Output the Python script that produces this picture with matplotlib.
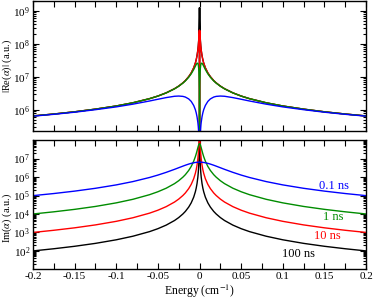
import numpy as np
import matplotlib
matplotlib.use('Agg')
import matplotlib.pyplot as plt
from matplotlib.ticker import MultipleLocator, LogLocator, NullFormatter

plt.rcParams['font.family'] = ['Liberation Serif', 'DejaVu Serif']
plt.rcParams['mathtext.fontset'] = 'stix'
plt.rcParams['axes.unicode_minus'] = False

# energy grid (cm^-1), one side; curves are symmetric about 0
energy_half = [0, 0.0001, 0.0002, 0.0004, 0.0007, 0.001, 0.0015, 0.002, 0.003,
               0.004, 0.005, 0.007, 0.01, 0.013, 0.017, 0.02, 0.025, 0.03,
               0.04, 0.05, 0.06, 0.08, 0.1, 0.125, 0.15, 0.175, 0.2]

labels = ["100 ns", "10 ns", "1 ns", "0.1 ns"]

# |Re(alpha)|
re_100ns = [1e3, 1.24e9, 6.5e8, 3.29e8, 1.88e8, 1.32e8, 8.8e7, 6.6e7, 4.4e7,
            3.3e7, 2.64e7, 1.89e7, 1.32e7, 1.02e7, 7.76e6, 6.6e6, 5.28e6, 4.4e6,
            3.3e6, 2.64e6, 2.2e6, 1.65e6, 1.32e6, 1.06e6, 8.8e5, 7.54e5, 6.6e5]
re_10ns = [1e3, 1.82e8, 2.58e8, 2.37e8, 1.67e8, 1.24e8, 8.56e7, 6.5e7, 4.37e7,
           3.29e7, 2.63e7, 1.88e7, 1.32e7, 1.02e7, 7.76e6, 6.6e6, 5.28e6, 4.4e6,
           3.3e6, 2.64e6, 2.2e6, 1.65e6, 1.32e6, 1.06e6, 8.8e5, 7.54e5, 6.6e5]
re_1ns = [1e3, 2.11e6, 4.2e6, 8.24e6, 1.37e7, 1.82e7, 2.33e7, 2.58e7, 2.6e7,
          2.37e7, 2.11e7, 1.67e7, 1.24e7, 9.79e6, 7.6e6, 6.5e6, 5.23e6, 4.37e6,
          3.29e6, 2.63e6, 2.2e6, 1.65e6, 1.32e6, 1.06e6, 8.8e5, 7.54e5, 6.6e5]
re_01ns = [1e3, 2.11e4, 4.22e4, 8.45e4, 1.48e5, 2.11e5, 3.16e5, 4.2e5, 6.25e5,
           8.24e5, 1.02e6, 1.37e6, 1.82e6, 2.16e6, 2.46e6, 2.58e6, 2.64e6, 2.6e6,
           2.37e6, 2.11e6, 1.87e6, 1.5e6, 1.24e6, 1.02e6, 8.56e5, 7.39e5, 6.5e5]

# Im(alpha)
im_100ns = [6.4e9, 3.76e8, 9.85e7, 2.49e7, 8.15e6, 4.0e6, 1.78e6, 1.0e6, 4.44e5,
            2.5e5, 1.6e5, 8.16e4, 4.0e4, 2.37e4, 1.38e4, 1.0e4, 6.4e3, 4.44e3,
            2.5e3, 1.6e3, 1.11e3, 625, 400, 256, 178, 131, 100]
im_10ns = [6.4e8, 5.52e8, 3.9e8, 1.8e8, 7.24e7, 3.76e7, 1.73e7, 9.85e6, 4.41e6,
           2.49e6, 1.6e6, 8.15e5, 4.0e5, 2.37e5, 1.38e5, 1.0e5, 6.4e4, 4.44e4,
           2.5e4, 1.6e4, 1.11e4, 6.25e3, 4.0e3, 2.56e3, 1.78e3, 1.31e3, 1.0e3]
im_1ns = [6.4e7, 6.39e7, 6.36e7, 6.24e7, 5.93e7, 5.52e7, 4.71e7, 3.9e7, 2.62e7,
          1.8e7, 1.28e7, 7.24e6, 3.76e6, 2.28e6, 1.35e6, 9.85e5, 6.34e5, 4.41e5,
          2.49e5, 1.6e5, 1.11e5, 6.24e4, 4.0e4, 2.56e4, 1.78e4, 1.31e4, 1.0e4]
im_01ns = [6.4e6, 6.4e6, 6.4e6, 6.4e6, 6.39e6, 6.39e6, 6.38e6, 6.36e6, 6.31e6,
           6.24e6, 6.15e6, 5.93e6, 5.52e6, 5.04e6, 4.38e6, 3.9e6, 3.2e6, 2.62e6,
           1.8e6, 1.28e6, 9.47e5, 5.69e5, 3.76e5, 2.46e5, 1.73e5, 1.28e5, 9.85e4]

colors = ['black', '#ff0000', '#008c00', '#0000ff']
label_pos = [(0.119, 68), (0.154, 660), (0.16, 6.5e3), (0.161, 3.3e5)]


def mirror(vals):
    v = np.asarray(vals, dtype=float)
    return np.concatenate([v[:0:-1], v])


energy = np.concatenate([-np.asarray(energy_half)[:0:-1], energy_half])

fig = plt.figure(figsize=(3.74, 3.02), dpi=100)
ax1 = fig.add_axes([0.088, 0.566, 0.891, 0.431])
ax2 = fig.add_axes([0.088, 0.108, 0.891, 0.428])

for ys, c in zip([re_100ns, re_10ns, re_1ns, re_01ns], colors):
    ax1.plot(energy, mirror(ys), color=c, lw=1.0)
for ys, c in zip([im_100ns, im_10ns, im_1ns, im_01ns], colors):
    ax2.plot(energy, mirror(ys), color=c, lw=1.0)

for (x, y), lab, c in zip(label_pos, labels, colors):
    ax2.text(x, y, lab, color=c, fontsize=9, ha='center', va='center')

ax1.set_yscale('log')
ax2.set_yscale('log')
ax1.set_ylim(2.3e5, 2e9)
ax2.set_ylim(10, 1e8)
ax1.set_yticks([1e6, 1e7, 1e8, 1e9])
ax2.set_yticks([1e2, 1e3, 1e4, 1e5, 1e6, 1e7])

for ax in (ax1, ax2):
    ax.set_xlim(-0.2, 0.2)
    ax.xaxis.set_major_locator(MultipleLocator(0.05))
    ax.xaxis.set_minor_locator(MultipleLocator(0.025))
    ax.yaxis.set_minor_locator(LogLocator(base=10, subs=np.arange(2, 10), numticks=20))
    ax.yaxis.set_minor_formatter(NullFormatter())
    ax.tick_params(which='both', direction='in', top=True, right=True,
                   labelsize=8, width=0.8, pad=2)
    ax.tick_params(axis='x', which='both', length=4.5)
    ax.tick_params(axis='y', which='major', length=4.5)
    ax.tick_params(axis='y', which='minor', length=2.5)
    for s in ax.spines.values():
        s.set_linewidth(1.0)

ax1.tick_params(axis='x', labelbottom=False)
ax2.set_xticks([-0.2, -0.15, -0.1, -0.05, 0, 0.05, 0.1, 0.15, 0.2])
ax2.set_xticklabels(['-0.2', '-0.15', '-0.1', '-0.05', '0', '0.05', '0.1', '0.15', '0.2'])

ax1.set_ylabel(r'$|$Re($\alpha$)$|$ (a.u.)', fontsize=7.5)
ax2.set_ylabel(r'Im($\alpha$) (a.u.)', fontsize=7.5)
ax1.yaxis.set_label_coords(-0.058, 0.5)
ax2.yaxis.set_label_coords(-0.058, 0.40)
ax2.set_xlabel(r'Energy (cm$^{-1}$)', fontsize=8.5, labelpad=1)

fig.savefig('out.png', dpi=100)
